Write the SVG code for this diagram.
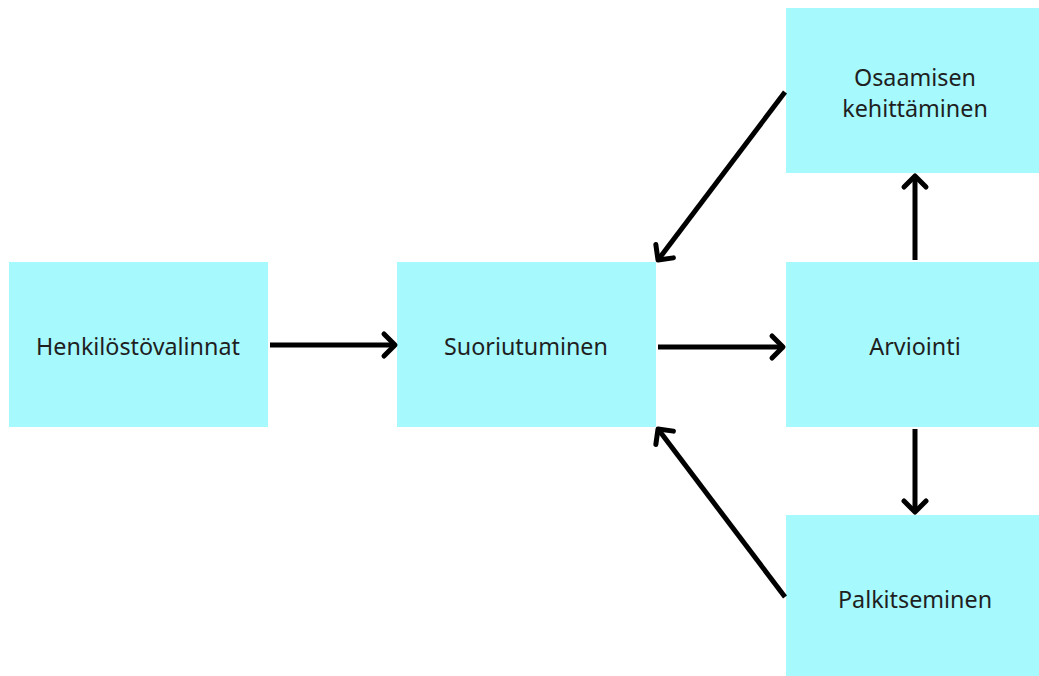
<svg xmlns="http://www.w3.org/2000/svg" width="1039" height="676" viewBox="0 0 1039 676">
<style>
.box{fill:#a6f9fc}
.lbl{font-family:"Noto Sans","Open Sans",sans-serif;font-size:23.3px;fill:#1f1f1f;text-anchor:middle;dominant-baseline:central}
.con{stroke:#000;stroke-width:5;fill:none;marker-end:url(#ah)}
</style>
<defs>
<marker id="ah" markerUnits="userSpaceOnUse" viewBox="-16 -14 20 28" refX="0" refY="0" markerWidth="20" markerHeight="28" orient="auto" overflow="visible">
<path d="M -11 -11 L 0 0 L -11 11" fill="none" stroke="#000" stroke-width="5" stroke-linecap="round" stroke-linejoin="round"/>
</marker>
</defs>
<rect width="1039" height="676" fill="#fff"/>
<g id="henkilostovalinnat"><rect class="box" x="9" y="262" width="259" height="165"/><text class="lbl" x="138" y="346">Henkilöstövalinnat</text></g>
<g id="suoriutuminen"><rect class="box" x="397" y="262" width="259" height="165"/><text class="lbl" x="526" y="346">Suoriutuminen</text></g>
<g id="arviointi"><rect class="box" x="786" y="262" width="259" height="165"/><text class="lbl" x="915" y="346">Arviointi</text></g>
<g id="osaamisen"><rect class="box" x="786" y="8" width="259" height="165"/><text class="lbl" x="915" y="77">Osaamisen</text><text class="lbl" x="915" y="108">kehittäminen</text></g>
<g id="palkitseminen"><rect class="box" x="786" y="515" width="259" height="165"/><text class="lbl" x="915" y="599">Palkitseminen</text></g>
<g id="connectors">
<line class="con" x1="270" y1="345" x2="395" y2="345"/>
<line class="con" x1="658" y1="347" x2="783" y2="347"/>
<line class="con" x1="915" y1="260" x2="915" y2="176"/>
<line class="con" x1="915" y1="429" x2="915" y2="512"/>
<line class="con" x1="785" y1="92" x2="658" y2="260"/>
<line class="con" x1="785" y1="597" x2="658" y2="429"/>
</g>
</svg>
